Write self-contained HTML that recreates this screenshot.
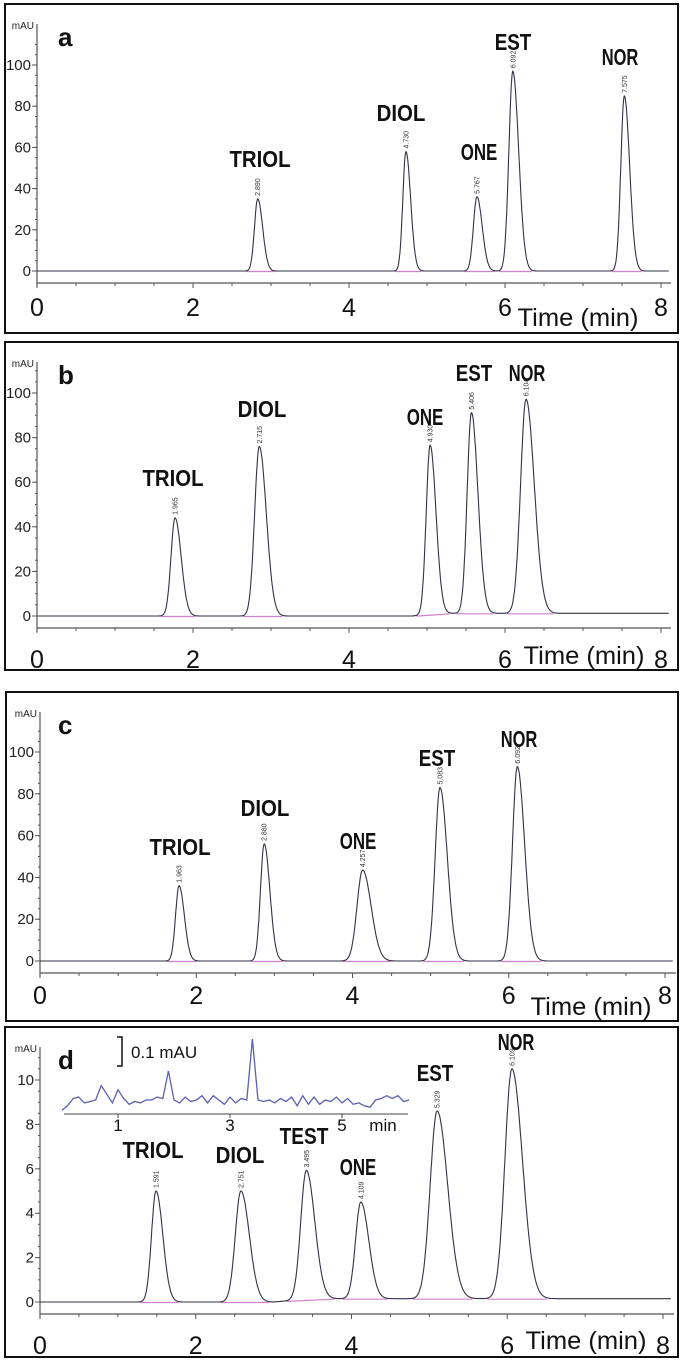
<!DOCTYPE html>
<html><head><meta charset="utf-8">
<style>
html,body{margin:0;padding:0;background:#fff;}
svg{display:block;font-family:"Liberation Sans",sans-serif;}
</style></head>
<body>
<svg id="fig" width="685" height="1362" viewBox="0 0 685 1362" xmlns="http://www.w3.org/2000/svg"></svg>
<script>
// ---- data ----
const aNames = ["TRIOL","DIOL","ONE","EST","NOR"];
const aTimes = [2.83, 4.73, 5.64, 6.10, 7.53];
const aHeights = [35, 58, 36, 97, 85];
const aWidths = [0.042, 0.04, 0.045, 0.05, 0.045];
const aRT = ["2.890","4.730","5.767","6.092","7.575"];

const bNames = ["TRIOL","DIOL","ONE","EST","NOR"];
const bTimes = [1.77, 2.85, 5.04, 5.57, 6.27];
const bHeights = [44, 76, 76, 90, 96];
const bWidths = [0.052, 0.06, 0.05, 0.055, 0.07];
const bRT = ["1.965","2.715","4.930","5.406","6.104"];

const cNames = ["TRIOL","DIOL","ONE","EST","NOR"];
const cTimes = [1.78, 2.87, 4.13, 5.12, 6.11];
const cHeights = [36, 56, 43.5, 83, 93];
const cWidths = [0.045, 0.048, 0.072, 0.062, 0.062];
const cRT = ["1.963","2.880","4.257","5.083","6.092"];

const dNames = ["TRIOL","DIOL","TEST","ONE","EST","NOR"];
const dTimes = [1.49, 2.58, 3.42, 4.12, 5.10, 6.06];
const dHeights = [5.0, 5.0, 5.8, 4.35, 8.45, 10.35];
const dWidths = [0.058, 0.072, 0.072, 0.068, 0.09, 0.09];
const dRT = ["1.591","2.751","3.495","4.109","5.329","6.109"];

const xTicks = [0,2,4,6,8];
const yTicksABC = [0,20,40,60,80,100];
const yTicksD = [0,2,4,6,8,10];

// inset noise in panel d (mAU, every 0.1 min from 0)
const insetSignal = [-0.035,-0.02,0.005,0.01,-0.01,-0.005,0.0,0.05,0.02,-0.01,0.035,0.005,-0.015,-0.005,-0.01,0.0,0.0,0.01,0.005,0.10,0.0,-0.01,0.01,-0.005,0.0,0.015,-0.01,0.015,0.0,-0.015,0.01,-0.01,0.005,0.0,0.21,0.0,-0.005,0.0,-0.01,0.005,-0.005,0.01,-0.02,0.015,-0.015,0.01,-0.015,0.0,-0.005,0.01,-0.01,0.005,-0.015,-0.01,-0.02,-0.025,0.0,0.005,0.015,0.005,0.015,-0.005,0.0];
const insetTicks = [1,3,5];

// ---- layout ----
const panels = [
 {id:"a", box:[5,4,673,329], x0:37, x8:661, y0:271, yTop:65, yMax:100, axisY:283, tickY:307, yTicks:yTicksABC, minor:5,
  names:aNames,times:aTimes,heights:aHeights,widths:aWidths,rt:aRT, drift:[0,0],
  labelPos:[[260,159],[401,113],[479,152],[513,42],[620,57]], timeLbl:[578,326], xEnd:671},
 {id:"b", box:[5,342,673,328], x0:37, x8:661, y0:616, yTop:393, yMax:100, axisY:628, tickY:659, yTicks:yTicksABC, minor:5,
  names:bNames,times:bTimes,heights:bHeights,widths:bWidths,rt:bRT, drift:[4.8,1.2],
  labelPos:[[173,478],[262,409],[425,417],[474,373],[527,373]], timeLbl:[584,664], xEnd:671},
 {id:"c", box:[6,692,672,329], x0:40, x8:665, y0:961, yTop:752, yMax:100, axisY:973, tickY:995, yTicks:yTicksABC, minor:5,
  names:cNames,times:cTimes,heights:cHeights,widths:cWidths,rt:cRT, drift:[0,0],
  labelPos:[[180,847],[265,808],[358,841],[437,758],[519,739]], timeLbl:[591,1015], xEnd:676},
 {id:"d", box:[5,1027,673,330], x0:40, x8:663, y0:1302, yTop:1080, yMax:10, axisY:1314, tickY:1345, yTicks:yTicksD, minor:0.5,
  names:dNames,times:dTimes,heights:dHeights,widths:dWidths,rt:dRT, drift:[3.0,0.15],
  labelPos:[[153,1150],[240,1155],[304,1136],[358,1167],[435,1073],[516,1042]], timeLbl:[586,1349], xEnd:674}
];

const NS="http://www.w3.org/2000/svg";
const svg=document.getElementById('fig');
function mk(tag,attrs,parent){const e=document.createElementNS(NS,tag);for(const k in attrs)e.setAttribute(k,attrs[k]);(parent||svg).appendChild(e);return e;}

panels.forEach(p=>{
  const g=mk('g',{});
  
  
  const X=t=>p.x0+(p.x8-p.x0)*t/8;
  const Y=v=>p.y0-(p.y0-p.yTop)*v/p.yMax;
  const frame=mk('rect',{x:p.box[0],y:p.box[1],width:p.box[2],height:p.box[3],fill:'none',stroke:'#111','stroke-width':2},g);
  
  
  const yax=mk('line',{x1:p.x0,y1:p.box[1]+20,x2:p.x0,y2:p.axisY+4,stroke:'#555','stroke-width':1.2},g);
  
  
  const mau=mk('text',{x:p.x0-3,y:p.box[1]+25,'font-size':10,'text-anchor':'end',fill:'#222'},g);
  mau.textContent='mAU';
  
  
  for(let v=0;v<=p.yMax*1.12;v+=p.minor){
    const y=Y(v); if(y<p.box[1]+22)break;
    mk('line',{x1:p.x0-2,y1:y,x2:p.x0,y2:y,stroke:'#555','stroke-width':1},g);
  }
  p.yTicks.forEach(v=>{
    mk('line',{x1:p.x0-5,y1:Y(v),x2:p.x0,y2:Y(v),stroke:'#555','stroke-width':1},g);
    const t=mk('text',{x:p.x0-6,y:Y(v)+5,'font-size':15,'text-anchor':'end',fill:'#222'},g);
    t.textContent=v;
    
    
  });
  const xax=mk('line',{x1:p.x0,y1:p.axisY,x2:p.xEnd,y2:p.axisY,stroke:'#555','stroke-width':1.2},g);
  
  
  for(let t=0;t<=8;t+=0.5){mk('line',{x1:X(t),y1:p.axisY,x2:X(t),y2:p.axisY+(t%2===0?5:3),stroke:'#555','stroke-width':1},g);}
  xTicks.forEach(v=>{
    const t=mk('text',{x:X(v),y:p.tickY+9,'font-size':25,'text-anchor':'middle',fill:'#111'},g);
    t.textContent=v;
    
    
  });
  const tl=mk('text',{x:p.timeLbl[0],y:p.timeLbl[1],'font-size':25,'text-anchor':'middle',fill:'#111',textLength:121,lengthAdjust:'spacingAndGlyphs'},g);
  tl.textContent='Time (min)';
  
  
  const pl=mk('text',{x:58,y:p.box[1]+42,'font-size':26,'font-weight':'bold',fill:'#111'},g);
  pl.textContent=p.id;
  
  
  const base=t=>t>p.drift[0]?p.drift[1]*Math.min(1,(t-p.drift[0])/0.5):0;
  let d='';
  for(let t=0;t<=8.1;t+=0.004){
    let v=base(t);
    p.times.forEach((c,i)=>{const s=t<c?p.widths[i]:p.widths[i]*1.5;v+=p.heights[i]*Math.exp(-0.5*((t-c)/s)**2);});
    d+=(d?'L':'M')+X(t).toFixed(1)+','+Y(v).toFixed(1);
  }
  p.times.forEach((c,i)=>{
    const w=p.widths[i];
    const il=mk('line',{x1:X(c-3.5*w),y1:Y(base(c-3.5*w))+0.5,x2:X(c+5*w),y2:Y(base(c+5*w))+0.5,stroke:'#d080d0','stroke-width':1.2},g);
    
    
  });
  const tr=mk('path',{d:d,fill:'none',stroke:'#334','stroke-width':1.1},g);
  
  
  p.times.forEach((c,i)=>{
    const x=X(c), y=Y(p.heights[i]+base(c));
    const r=mk('text',{x:0,y:0,'font-size':7,fill:'#333',transform:`translate(${x+2.5},${y-3}) rotate(-90)`},g);
    r.textContent=p.rt[i];
    
    
    const lp=p.labelPos[i];
    const n=mk('text',{x:lp[0],y:lp[1]+8,'font-size':23,'font-weight':'bold','text-anchor':'middle',fill:'#111',textLength:p.names[i].length*12.2,lengthAdjust:'spacingAndGlyphs'},g);
    n.textContent=p.names[i];
    
    
  });
});

(function(){
  const g=mk('g',{});
  
  
  const IX=t=>62+56*t, IY=v=>1100-290*v;
  mk('line',{x1:64,y1:1114,x2:408,y2:1114,stroke:'#444','stroke-width':1},g);
  insetTicks.forEach(v=>{
    mk('line',{x1:IX(v),y1:1114,x2:IX(v),y2:1118,stroke:'#444'},g);
    const t=mk('text',{x:IX(v),y:1131,'font-size':17,'text-anchor':'middle',fill:'#111'},g);
    t.textContent=v;
    
    
  });
  const m=mk('text',{x:383,y:1131,'font-size':17,'text-anchor':'middle',fill:'#111'},g);
  m.textContent='min';
  
  
  let d='';
  insetSignal.forEach((v,i)=>{d+=(i?'L':'M')+IX(i*0.1).toFixed(1)+','+IY(v).toFixed(1);});
  const p=mk('path',{d:d,fill:'none',stroke:'#5b5fb0','stroke-width':1.3},g);
  
  
  const b=mk('path',{d:'M117,1037 L122,1037 L122,1066 L117,1066',fill:'none',stroke:'#111','stroke-width':1.5},g);
  
  
  const s=mk('text',{x:131,y:1058,'font-size':17,fill:'#111'},g);
  s.textContent='0.1 mAU';
  
  
})();
</script>
</body></html>
